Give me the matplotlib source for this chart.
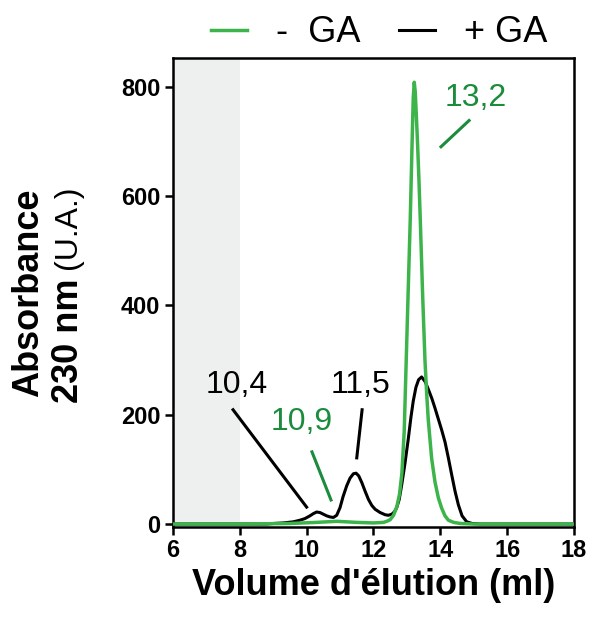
import numpy as np
import matplotlib
matplotlib.use('agg')
import matplotlib.pyplot as plt

plt.rcParams['font.family'] = ['Liberation Sans', 'DejaVu Sans']

# elution volume (ml) / absorbance
vol_minus = [6.0, 8.0, 9.5, 10.3, 10.9, 11.5, 12.0, 12.3, 12.4, 12.5, 12.6, 12.7, 12.78, 12.85, 12.92,
             12.98, 13.04, 13.1, 13.16, 13.19, 13.22, 13.25, 13.28, 13.31, 13.36, 13.4, 13.47, 13.54,
             13.59, 13.64, 13.74, 13.84, 13.94, 14.04, 14.14, 14.24, 14.4, 14.6, 15.0,
             16.0, 18.0]
abs_minus = [0, 0, 1, 3, 5, 3, 2, 3, 5, 8, 16, 32, 55, 93, 170,
             300, 430, 557, 709, 780, 808, 790, 750, 709, 630, 557, 420, 300,
             240, 190, 120, 77, 48, 29, 15, 7, 3, 1, 0,
             0, 0]

vol_plus = [6.0, 8.8, 9.0, 9.3, 9.6, 9.8, 9.95, 10.1, 10.2, 10.3, 10.4, 10.5, 10.6, 10.7, 10.8,
            10.9, 11.0, 11.09, 11.2, 11.3, 11.4, 11.48, 11.56, 11.65, 11.75, 11.85, 11.95, 12.05,
            12.2, 12.35, 12.44, 12.55, 12.62, 12.69, 12.77, 12.84, 12.94, 13.04, 13.12, 13.19, 13.27,
            13.35, 13.44, 13.55, 13.65, 13.75, 13.84, 13.94, 14.04, 14.14, 14.24, 14.34, 14.44,
            14.54, 14.65, 14.79, 14.95, 15.2, 16.0, 18.0]
abs_plus = [0, 0, 1, 2, 4, 7, 10, 15, 19, 22, 21, 18, 15, 13, 12,
            16, 30, 50, 70, 84, 92, 93, 88, 76, 60, 45, 34, 27,
            21, 17, 16, 18, 22, 29, 45, 70, 110, 155, 195, 225, 250,
            264, 269, 260, 245, 229, 212, 192, 172, 150, 121, 90, 60,
            35, 15, 4, 1, 0, 0, 0]

# annotations: label, colour, text position, line start, line end
ann_labels = ['13,2', '10,4', '10,9', '11,5']
ann_colors = ['#1a8c3c', 'black', '#1a8c3c', 'black']
ann_text_xy = [(15.05, 780), (7.9, 254), (9.85, 187), (11.6, 254)]
ann_line_xy = [((14.02, 690), (14.86, 738)), ((7.8, 209), (10.0, 31)),
               ((10.16, 132), (10.73, 44)), ((11.66, 209), (11.5, 121))]

green = '#3cb44b'

fig = plt.figure(figsize=(5.9, 6.19), dpi=100)
ax = fig.add_axes([0.293, 0.149, 0.68, 0.757])

ax.axvspan(6, 8, color='#eef0ef', lw=0, zorder=0)
ax.plot(vol_plus, abs_plus, color='black', lw=2.2, label='+ GA', zorder=3,
        solid_joinstyle='round')
ax.plot(vol_minus, abs_minus, color=green, lw=2.5, label='-  GA', zorder=4,
        solid_joinstyle='round')

for lab, col, txy, (p0, p1) in zip(ann_labels, ann_colors, ann_text_xy, ann_line_xy):
    ax.text(txy[0], txy[1], lab, color=col, fontsize=23, ha='center', va='center')
    ax.plot([p0[0], p1[0]], [p0[1], p1[1]], color=col, lw=2.2, zorder=2)

ax.set_xlim(6, 18)
ax.set_ylim(-5, 852)
ax.set_xticks(np.arange(6, 19, 2))
ax.set_yticks(np.arange(0, 801, 200))
ax.tick_params(axis='both', direction='out', length=6, width=1.8, labelsize=17, pad=3)
for lab in ax.get_xticklabels() + ax.get_yticklabels():
    lab.set_fontweight('bold')
for sp in ax.spines.values():
    sp.set_linewidth(1.8)

ax.set_xlabel("Volume d'élution (ml)", fontsize=26, fontweight='bold', labelpad=4)

fig.text(0.049, 0.527, 'Absorbance', rotation=90, fontsize=26, fontweight='bold',
         ha='center', va='center')
fig.text(0.116, 0.349, '230 nm', rotation=90, fontsize=26, fontweight='bold',
         ha='center', va='bottom')
fig.text(0.116, 0.701, '(U.A.)', rotation=90, fontsize=23, ha='center', va='top')

h, l = ax.get_legend_handles_labels()
ax.legend(h[::-1], l[::-1], ncol=2, frameon=False, fontsize=26, loc='center',
          bbox_to_anchor=(379 / 590, 1 - 33 / 619), bbox_transform=fig.transFigure,
          handlelength=1.0, handletextpad=0.8, columnspacing=1.05, borderaxespad=0)

fig.savefig('out.png', dpi=100)
